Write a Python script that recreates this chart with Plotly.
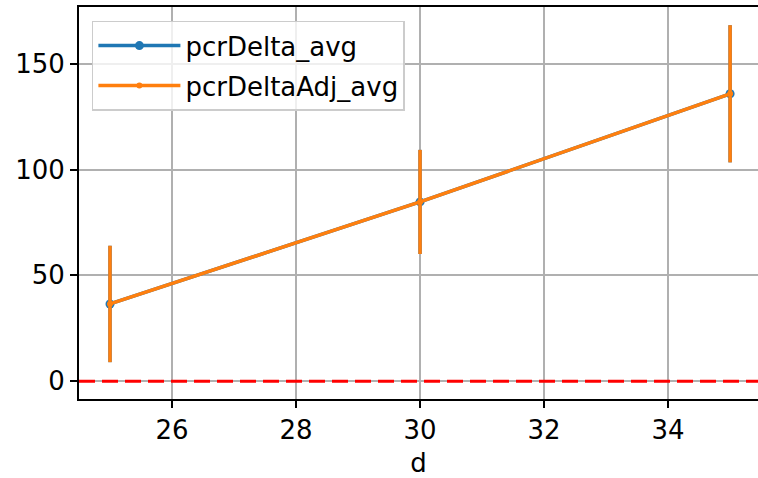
import plotly.graph_objects as go

d = [25, 30, 35]
pcr_delta_avg = [36.5, 84.7, 135.8]
pcr_delta_err = [27.5, 24.6, 32.4]
pcr_delta_adj_avg = [36.5, 84.7, 135.8]
pcr_delta_adj_err = [27.5, 24.6, 32.4]

x_ticks = [26, 28, 30, 32, 34]
y_ticks = [0, 50, 100, 150]

BLUE = "#1f77b4"
ORANGE = "#ff7f0e"
FONT = "DejaVu Sans"
FS = 26

fig = go.Figure()
fig.add_trace(go.Scatter(
    x=d, y=pcr_delta_avg, name="pcrDelta_avg", mode="lines+markers", legendgroup="a",
    line=dict(color=BLUE, width=3.5), marker=dict(color=BLUE, size=9),
    error_y=dict(type="data", array=pcr_delta_err, color=BLUE, thickness=3.5, width=0),
))
fig.add_trace(go.Scatter(
    x=d, y=pcr_delta_adj_avg, name="pcrDeltaAdj_avg", mode="lines+markers", legendgroup="b",
    line=dict(color=ORANGE, width=3.5), marker=dict(color=ORANGE, size=6),
    error_y=dict(type="data", array=pcr_delta_adj_err, color=ORANGE, thickness=3.5, width=0),
))

fig.add_hline(y=0, line=dict(color="red", width=3, dash="16px,7px"), layer="above")

fig.update_layout(
    width=758, height=478,
    margin=dict(l=79, r=0, t=7, b=79, autoexpand=False),
    paper_bgcolor="white", plot_bgcolor="white",
    font=dict(family=FONT, size=FS, color="black"),
    showlegend=True,
    legend=dict(
        x=0.019, y=0.965, xanchor="left", yanchor="top",
        bgcolor="rgba(255,255,255,0.8)", bordercolor="#cccccc", borderwidth=1.5,
        font=dict(family=FONT, size=FS), itemwidth=82, tracegroupgap=3,
    ),
    xaxis=dict(
        range=[24.5, 35.45], tickvals=x_ticks, ticktext=[str(v) for v in x_ticks],
        showgrid=True, gridcolor="#b0b0b0", gridwidth=1.5,
        showline=True, linecolor="black", linewidth=2, mirror=True,
        ticks="outside", ticklen=7, tickwidth=2, tickcolor="black",
        zeroline=False, automargin=False,
        title=dict(text="d", font=dict(family=FONT, size=FS), standoff=12),
    ),
    yaxis=dict(
        range=[-8.4, 176.8], tickvals=y_ticks, ticktext=[str(v) for v in y_ticks],
        showgrid=True, gridcolor="#b0b0b0", gridwidth=1.5,
        showline=True, linecolor="black", linewidth=2,
        ticks="outside", ticklen=7, tickwidth=2, tickcolor="black",
        zeroline=False, automargin=False,
    ),
)

fig.write_html("out.html", config={"displayModeBar": False},
               post_script="document.body.style.margin='0px';")
